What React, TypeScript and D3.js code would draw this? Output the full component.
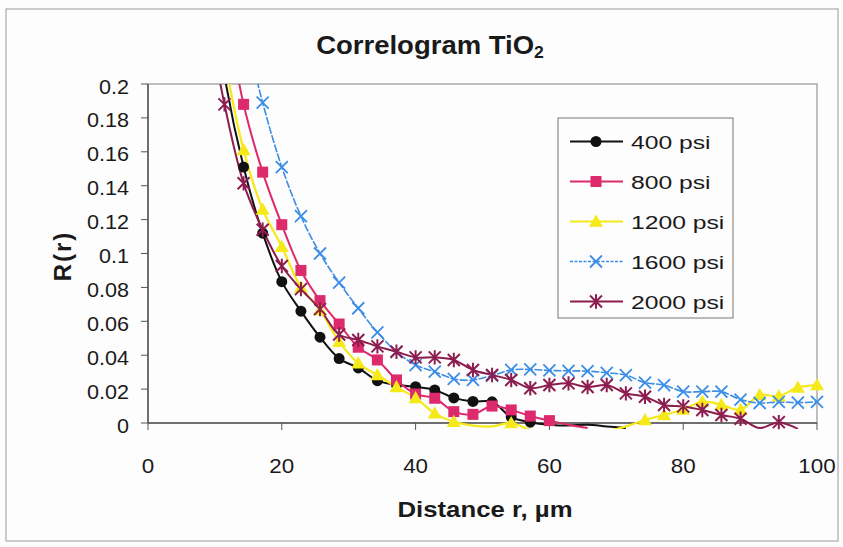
import React from 'react';
import * as d3 from 'd3';

const W = 843;
const H = 547;

// distance grid (µm)
const distances = [8.57, 11.43, 14.29, 17.14, 20.0, 22.86, 25.71, 28.57, 31.43, 34.29, 37.14, 40.0, 42.86, 45.71, 48.57, 51.43, 54.29, 57.14, 60.0, 62.86, 65.71, 68.57, 71.43, 74.29, 77.14, 80.0, 82.86, 85.71, 88.57, 91.43, 94.29, 97.14, 100.0];

const psi400 = [0.29, 0.205, 0.151, 0.112, 0.0834, 0.066, 0.0506, 0.038, 0.0325, 0.025, 0.0225, 0.0214, 0.0195, 0.0148, 0.0127, 0.0125, 0.0035, 0.0005, -0.001, -0.0015, -0.001, -0.002, -0.003, null, null, null, null, null, null, null, null, null, null];
const psi800 = [null, 0.25, 0.188, 0.148, 0.117, 0.09, 0.0722, 0.0584, 0.0447, 0.0372, 0.0254, 0.0171, 0.0146, 0.0067, 0.0051, 0.01, 0.0077, 0.0041, 0.0014, -0.001, -0.003, null, null, null, null, null, null, null, null, null, null, null, null];
const psi1200 = [null, 0.215, 0.161, 0.126, 0.104, 0.08, 0.0667, 0.048, 0.0352, 0.0283, 0.0212, 0.0148, 0.0057, 0.0008, -0.0015, -0.002, 0.0, -0.004, -0.006, -0.007, -0.007, -0.005, -0.002, 0.0018, 0.0047, 0.008, 0.0125, 0.0108, 0.0078, 0.0165, 0.0158, 0.021, 0.0224];
const psi1600 = [null, null, 0.235, 0.189, 0.151, 0.122, 0.1, 0.0828, 0.0677, 0.0535, 0.042, 0.0342, 0.0303, 0.026, 0.0254, 0.028, 0.0313, 0.0316, 0.031, 0.0308, 0.0306, 0.0296, 0.0283, 0.0238, 0.0224, 0.0185, 0.0185, 0.0185, 0.0138, 0.0118, 0.0124, 0.012, 0.0125];
const psi2000 = [0.25, 0.188, 0.1414, 0.114, 0.0926, 0.079, 0.0672, 0.0522, 0.049, 0.0452, 0.042, 0.0387, 0.0387, 0.0372, 0.0313, 0.0283, 0.0254, 0.0205, 0.0224, 0.0234, 0.0212, 0.0224, 0.0175, 0.0155, 0.0106, 0.0098, 0.0077, 0.0047, 0.0025, -0.003, 0.0005, -0.0035, null];

const seriesNames = ['400 psi', '800 psi', '1200 psi', '1600 psi', '2000 psi'];
const xTicks = [0, 20, 40, 60, 80, 100];
const yTicks = [0, 0.02, 0.04, 0.06, 0.08, 0.1, 0.12, 0.14, 0.16, 0.18, 0.2];
const yTickLabels = ['0', '0.02', '0.04', '0.06', '0.08', '0.1', '0.12', '0.14', '0.16', '0.18', '0.2'];

const series = [
  { name: seriesNames[0], values: psi400, color: '#111111', marker: 'circle', width: 2, dash: '' },
  { name: seriesNames[1], values: psi800, color: '#dc2a6c', marker: 'square', width: 2, dash: '' },
  { name: seriesNames[2], values: psi1200, color: '#f5e91a', marker: 'triangle', width: 2.2, dash: '' },
  { name: seriesNames[3], values: psi1600, color: '#3b8de6', marker: 'x', width: 1.6, dash: '8,1.5' },
  { name: seriesNames[4], values: psi2000, color: '#8c1d4e', marker: 'star', width: 2, dash: '' },
];

const M = { left: 148, right: 817, top: 84, bottom: 423 };
const x = d3.scaleLinear().domain([0, 100]).range([M.left, M.right]);
const y = d3.scaleLinear().domain([0, 0.2]).range([M.bottom, M.top]);

function SText({ x, y, anchor = 'middle', size = 19, weight = 400, sx = 1.2, children, ls = 0 }: any) {
  return (
    <g transform={`translate(${x},${y}) scale(${sx},1)`}>
      <text x={0} y={0} textAnchor={anchor} fontSize={size} fontWeight={weight} letterSpacing={ls}
        fontFamily="'Liberation Sans', Arial, sans-serif" fill="#1a1a1a">{children}</text>
    </g>
  );
}

function Marker({ type, cx, cy, color }: any) {
  if (type === 'circle') return <circle cx={cx} cy={cy} r={5.5} fill={color} />;
  if (type === 'square') return <rect x={cx - 5.5} y={cy - 5.5} width={11} height={11} fill={color} />;
  if (type === 'triangle') {
    const s = 7;
    return <path d={`M${cx},${cy - s}L${cx + s},${cy + s * 0.75}L${cx - s},${cy + s * 0.75}Z`} fill={color} />;
  }
  if (type === 'x') {
    const s = 6;
    return <path d={`M${cx - s},${cy - s}L${cx + s},${cy + s}M${cx - s},${cy + s}L${cx + s},${cy - s}`} stroke={color} strokeWidth={1.8} fill="none" />;
  }
  const s = 6;
  return <path d={`M${cx - s},${cy - s}L${cx + s},${cy + s}M${cx - s},${cy + s}L${cx + s},${cy - s}M${cx},${cy - s * 1.2}L${cx},${cy + s * 1.2}`} stroke={color} strokeWidth={2} fill="none" />;
}

export default function App() {
  const line = d3.line<[number, number]>()
    .x(d => x(d[0]))
    .y(d => y(d[1]))
    .curve(d3.curveCatmullRom.alpha(0.5));

  const legendX = 558, legendY = 118, legendW = 175, legendH = 200;

  return (
    <svg width={W} height={H} style={{ position: 'absolute', left: 0, top: 0, background: '#fdfdfd' }}>
      <rect x={0} y={0} width={W} height={H} fill="#fdfdfd" />
      <rect x={6} y={9} width={832} height={532} fill="none" stroke="#9a9a9a" strokeWidth={1} />
      <defs>
        <clipPath id="plotclip">
          <rect x={M.left} y={M.top} width={M.right - M.left} height={M.bottom - M.top + 6} />
        </clipPath>
      </defs>

      {/* Title */}
      <g transform={`translate(430,54) scale(1.1,1)`}>
        <text textAnchor="middle" fontSize={25} fontWeight={700} fontFamily="'Liberation Sans', Arial, sans-serif" fill="#1a1a1a">
          Correlogram TiO<tspan fontSize={16} dy={4}>2</tspan>
        </text>
      </g>

      {/* plot frame */}
      <rect x={M.left} y={M.top} width={M.right - M.left} height={M.bottom - M.top} fill="none" stroke="#808080" strokeWidth={1} />
      <line x1={M.left} x2={M.left} y1={M.top} y2={M.bottom} stroke="#555" strokeWidth={1.5} />
      <line x1={M.left} x2={M.right} y1={M.bottom} y2={M.bottom} stroke="#555" strokeWidth={1.5} />

      {/* y ticks */}
      {yTicks.map((t, i) => (
        <g key={'y' + i}>
          <line x1={M.left - 7} x2={M.left} y1={y(t)} y2={y(t)} stroke="#555" strokeWidth={1} />
          <SText x={129} y={y(t) + 9.5} anchor="end" size={20} sx={1.08}>{yTickLabels[i]}</SText>
        </g>
      ))}
      {/* x ticks */}
      {xTicks.map((t, i) => (
        <g key={'x' + i}>
          <line x1={x(t)} x2={x(t)} y1={M.bottom} y2={M.bottom + 7} stroke="#555" strokeWidth={1} />
          <SText x={x(t)} y={473} anchor="middle" size={20} sx={1.12}>{String(t)}</SText>
        </g>
      ))}

      {/* axis titles */}
      <SText x={485} y={517} anchor="middle" size={23} weight={700} sx={1.12}>Distance r, µm</SText>
      <g transform="translate(71,256) rotate(-90)">
        <text textAnchor="middle" fontSize={24} fontWeight={700} letterSpacing={2} fontFamily="'Liberation Sans', Arial, sans-serif" fill="#1a1a1a">R(r)</text>
      </g>

      {/* series lines */}
      <g clipPath="url(#plotclip)">
        {series.map(s => {
          const pts = distances.map((d, i) => [d, s.values[i]] as [number, number | null])
            .filter(p => p[1] !== null) as [number, number][];
          return <path key={s.name} d={line(pts) || ''} fill="none" stroke={s.color} strokeWidth={s.width} strokeDasharray={s.dash} />;
        })}
      </g>
      {/* markers */}
      <g>
        {series.map(s => distances.map((d, i) => {
          const v = s.values[i];
          if (v === null || v < -0.0005 || v > 0.2) return null;
          return <Marker key={s.name + i} type={s.marker} cx={x(d)} cy={y(v)} color={s.color} />;
        }))}
      </g>

      {/* legend */}
      <rect x={legendX} y={legendY} width={legendW} height={legendH} fill="#fdfdfd" stroke="#777" strokeWidth={1} />
      {series.map((s, i) => {
        const ly = 141.5 + i * 40;
        return (
          <g key={'lg' + i}>
            <line x1={570} x2={623} y1={ly} y2={ly} stroke={s.color} strokeWidth={s.width} strokeDasharray={s.dash ? '3,1.5' : ''} />
            <Marker type={s.marker} cx={596} cy={ly} color={s.color} />
            <SText x={631} y={ly + 7} anchor="start" size={19} sx={1.3}>{s.name}</SText>
          </g>
        );
      })}
    </svg>
  );
}
